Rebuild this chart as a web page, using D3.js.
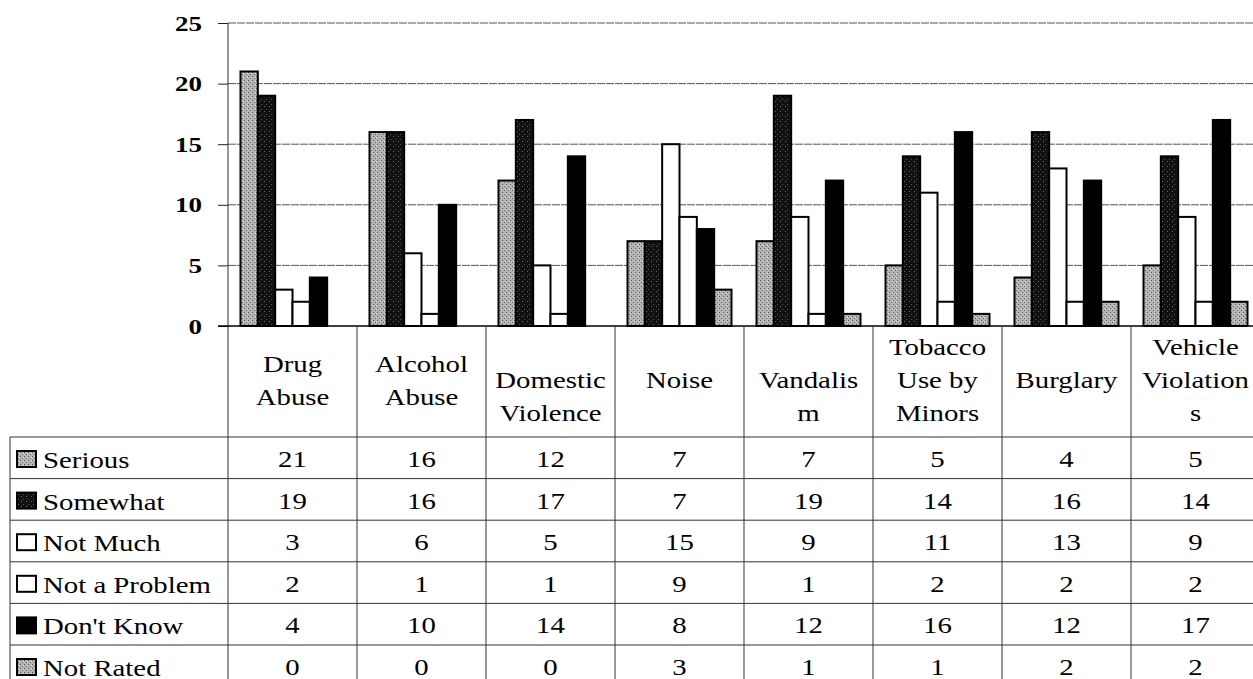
<!DOCTYPE html>
<html>
<head>
<meta charset="utf-8">
<script src="https://cdnjs.cloudflare.com/ajax/libs/d3/7.8.5/d3.min.js"></script>
<style>
  body { margin: 0; background: #fff; }
  svg { display: block; }
  text { font-family: "Liberation Serif", "Times New Roman", serif; fill: #000; }
</style>
</head>
<body>
<div id="chart"></div>
<script>
// data
var categories = ["Drug Abuse", "Alcohol Abuse", "Domestic Violence", "Noise",
                  "Vandalism", "Tobacco Use by Minors", "Burglary", "Vehicle Violations"];
// header wrapping as it appears in the table
var headerLines = [["Drug", "Abuse"], ["Alcohol", "Abuse"], ["", "Domestic", "Violence"], ["Noise"],
                   ["", "Vandalis", "m"], ["Tobacco", "Use by", "Minors"], ["Burglary"], ["Vehicle", "Violation", "s"]];
var seriesNames = ["Serious", "Somewhat", "Not Much", "Not a Problem", "Don't Know", "Not Rated"];
var serious    = [21, 16, 12, 7, 7, 5, 4, 5];
var somewhat   = [19, 16, 17, 7, 19, 14, 16, 14];
var notMuch    = [3, 6, 5, 15, 9, 11, 13, 9];
var notProblem = [2, 1, 1, 9, 1, 2, 2, 2];
var dontKnow   = [4, 10, 14, 8, 12, 16, 12, 17];
var notRated   = [0, 0, 0, 3, 1, 1, 2, 2];
var yTicks = [0, 5, 10, 15, 20, 25];

var seriesValues = [serious, somewhat, notMuch, notProblem, dontKnow, notRated];
var seriesFill = ["url(#stipLight)", "url(#stipDark)", "#fff", "#fff", "#000", "url(#stipLight)"];

var width = 1253, height = 679;
var colW = 129;
var plotLeft = 228, plotTop = 23, plotBottom = 326;
var rowTop = 437, rowH = 41.6;
var sx = 1.2; // the scan is stretched sideways

var svg = d3.select('#chart').append('svg')
  .attr('width', width).attr('height', height);

// textures
var defs = svg.append('defs');
var pl = defs.append('pattern').attr('id', 'stipLight')
  .attr('width', 4).attr('height', 4).attr('patternUnits', 'userSpaceOnUse');
pl.append('rect').attr('width', 4).attr('height', 4).attr('fill', '#b4b4b4');
pl.append('rect').attr('x', 0).attr('y', 0).attr('width', 1).attr('height', 1).attr('fill', '#555');
pl.append('rect').attr('x', 2).attr('y', 2).attr('width', 1).attr('height', 1).attr('fill', '#666');
pl.append('rect').attr('x', 3).attr('y', 1).attr('width', 1).attr('height', 1).attr('fill', '#e0e0e0');
var pd = defs.append('pattern').attr('id', 'stipDark')
  .attr('width', 5).attr('height', 5).attr('patternUnits', 'userSpaceOnUse');
pd.append('rect').attr('width', 5).attr('height', 5).attr('fill', '#111');
pd.append('rect').attr('x', 1).attr('y', 1).attr('width', 1).attr('height', 1).attr('fill', '#666');
pd.append('rect').attr('x', 3).attr('y', 4).attr('width', 1).attr('height', 1).attr('fill', '#555');

var x0 = d3.scaleBand().domain(categories).range([plotLeft, plotLeft + colW * categories.length]);
var x1 = d3.scaleBand().domain(seriesNames).range([12.5, colW - 12.5]);
var y = d3.scaleLinear().domain([0, 25]).range([plotBottom, plotTop]);

// gridlines
svg.append('g').selectAll('line').data(yTicks.filter(function(d){ return d > 0; }))
  .enter().append('line')
  .attr('x1', plotLeft).attr('x2', width)
  .attr('y1', function(d){ return y(d); }).attr('y2', function(d){ return y(d); })
  .attr('stroke', '#555').attr('stroke-width', 1).attr('stroke-dasharray', '8,1');

// y axis
var yAxis = d3.axisLeft(y).tickValues(yTicks).tickSize(10);
var ga = svg.append('g').attr('transform', 'translate(' + plotLeft + ',0)').call(yAxis);
ga.select('.domain').remove();
ga.selectAll('.tick line').attr('stroke', '#222');
ga.selectAll('.tick text')
  .attr('font-size', 20).attr('font-weight', 'bold').attr('fill', '#000')
  .attr('font-family', '"Liberation Serif", serif')
  .attr('transform', 'scale(1.35,1)')
  .attr('x', -26 / 1.35).attr('dy', '0.35em');

// bars
var groups = svg.append('g').selectAll('g').data(categories).enter().append('g')
  .attr('transform', function(d){ return 'translate(' + x0(d) + ',0)'; });
groups.selectAll('rect').data(function(d, i){
    return seriesNames.map(function(s, j){ return {s: s, v: seriesValues[j][i], j: j}; })
      .filter(function(e){ return e.v > 0; });
  })
  .enter().append('rect')
  .attr('x', function(d){ return x1(d.s); })
  .attr('width', x1.bandwidth())
  .attr('y', function(d){ return y(d.v); })
  .attr('height', function(d){ return y(0) - y(d.v); })
  .attr('fill', function(d){ return seriesFill[d.j]; })
  .attr('stroke', '#000').attr('stroke-width', 2);

// table lines
var tableBottom = rowTop + rowH * seriesNames.length;
var lines = svg.append('g').attr('stroke', '#333').attr('stroke-width', 1);
lines.append('line').attr('x1', plotLeft).attr('x2', plotLeft).attr('y1', plotTop).attr('y2', tableBottom);
lines.append('line').attr('x1', plotLeft - 10).attr('x2', width).attr('y1', plotBottom).attr('y2', plotBottom)
  .attr('stroke', '#000').attr('stroke-width', 1.5);
lines.selectAll('.vcol').data(categories).enter().append('line')
  .attr('x1', function(d){ return x0(d) + colW; }).attr('x2', function(d){ return x0(d) + colW; })
  .attr('y1', plotBottom).attr('y2', tableBottom);
lines.selectAll('.hrow').data(d3.range(seriesNames.length + 1)).enter().append('line')
  .attr('x1', 10).attr('x2', width)
  .attr('y1', function(i){ return rowTop + i * rowH; }).attr('y2', function(i){ return rowTop + i * rowH; });
lines.append('line').attr('x1', 10).attr('x2', 10).attr('y1', rowTop).attr('y2', tableBottom);

// header labels
var hdr = svg.append('g');
categories.forEach(function(c, i){
  var ls = headerLines[i];
  var cx = x0(c) + colW / 2;
  ls.forEach(function(t, k){
    var yy = 388 - (ls.length - 1) * 33 / 2 + k * 33;
    hdr.append('text').attr('text-anchor', 'middle').attr('font-size', 24)
      .attr('transform', 'translate(' + cx + ',' + yy + ') scale(' + sx + ',1)')
      .text(t);
  });
});

// rows: legend key, name, values
seriesNames.forEach(function(s, j){
  var ry = rowTop + j * rowH;
  svg.append('rect').attr('x', 17).attr('y', ry + 14).attr('width', 19).attr('height', 16)
    .attr('fill', seriesFill[j]).attr('stroke', '#000').attr('stroke-width', 2);
  svg.append('text').attr('font-size', 24)
    .attr('transform', 'translate(43,' + (ry + 31) + ') scale(' + sx + ',1)')
    .text(s);
  categories.forEach(function(c, i){
    svg.append('text').attr('text-anchor', 'middle').attr('font-size', 24)
      .attr('transform', 'translate(' + (x0(c) + colW / 2) + ',' + (ry + 30) + ') scale(' + sx + ',1)')
      .text(seriesValues[j][i]);
  });
});
</script>
</body>
</html>
